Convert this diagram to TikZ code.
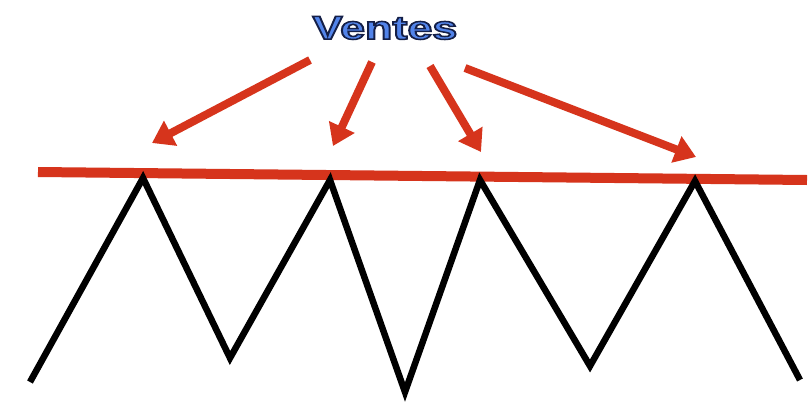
\documentclass[tikz,border=0pt]{standalone}
\usepackage{fontspec}
\setmainfont{Liberation Sans}
\usetikzlibrary{arrows.meta}
\definecolor{redln}{RGB}{214,52,28}
\definecolor{blutxt}{RGB}{82,132,234}
\newcommand{\outlinedtext}[1]{\special{pdf:literal direct 2 Tr 1.5 w 0.08 0.12 0.28 RG}#1\special{pdf:literal direct 0 Tr}}
\tikzset{
  redarrow/.style={draw=redln, line width=8pt, -{Triangle[width=27pt,length=21pt]}},
  zig/.style={draw=black, line width=6.5pt, line join=miter},
  title/.style={font=\bfseries\fontsize{33}{36}\selectfont, inner sep=0pt, xscale=1.36}
}
\begin{document}
\begin{tikzpicture}[x=1pt,y=-1pt]
\useasboundingbox (0,0) rectangle (812,402);
\fill[white] (0,0) rectangle (812,402);
% title with outline
\node[title, text=blutxt] (t) at (385,28) {\outlinedtext{Ventes}};
% arrow start/end coordinates
\coordinate (s1) at (310,60);  \coordinate (e1) at (152,143);
\coordinate (s2) at (372,62);  \coordinate (e2) at (333,146);
\coordinate (s3) at (430,66);  \coordinate (e3) at (481,152);
\coordinate (s4) at (465,68);  \coordinate (e4) at (696,157);
% red line
\coordinate (rl) at (38,172); \coordinate (rr) at (807,180);
\draw[redln, line width=10pt] (rl) -- (rr);
% zigzag
\coordinate (z0) at (30,382);
\coordinate (z1) at (143,178);
\coordinate (z2) at (230,358);
\coordinate (z3) at (330,180);
\coordinate (z4) at (405,392);
\coordinate (z5) at (480,180);
\coordinate (z6) at (590,366);
\coordinate (z7) at (695,181);
\coordinate (z8) at (800,380);
\draw[zig] (z0) -- (z1) -- (z2) -- (z3) -- (z4) -- (z5) -- (z6) -- (z7) -- (z8);
% arrows
\draw[redarrow] (s1) -- (e1);
\draw[redarrow] (s2) -- (e2);
\draw[redarrow] (s3) -- (e3);
\draw[redarrow] (s4) -- (e4);
\end{tikzpicture}
\end{document}
